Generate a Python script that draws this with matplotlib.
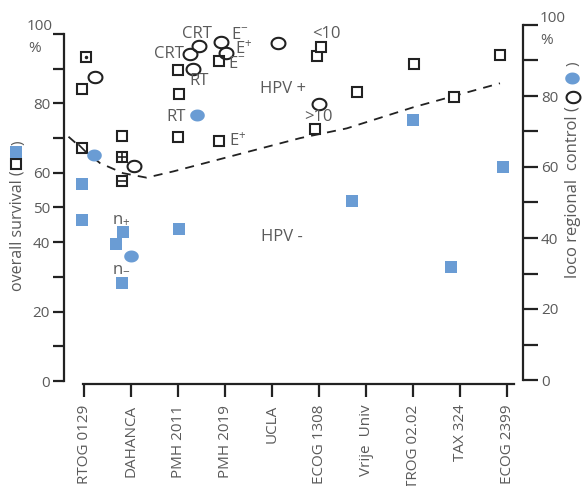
import numpy as np
import matplotlib.pyplot as plt
from matplotlib.path import Path
from matplotlib.lines import Line2D

plt.rcParams['font.family'] = ['Open Sans', 'DejaVu Sans']
plt.rcParams['mathtext.fontset'] = 'custom'
plt.rcParams['mathtext.rm'] = 'Open Sans'
plt.rcParams['mathtext.default'] = 'regular'

studies = ["RTOG 0129", "DAHANCA", "PMH 2011", "PMH 2019", "UCLA",
           "ECOG 1308", "Vrije  Univ", "TROG 02.02", "TAX 324", "ECOG 2399"]

# overall survival, HPV+ (open squares), x = study index (with small offsets)
os_pos_x = [0.04, -0.05, -0.05, 0.81, 0.80, 0.80, 2.01, 2.03, 2.01, 2.87, 2.87,
            4.96, 5.05, 4.91, 5.80, 7.03, 7.87, 8.86]
os_pos_y = [93.3, 84.1, 67.1, 70.5, 64.5, 57.6, 89.7, 82.6, 70.3, 92.3, 69.2,
            93.7, 96.2, 72.7, 83.3, 91.4, 81.9, 93.9]

# overall survival, HPV- (filled squares)
os_neg_x = [-0.04, -0.05, 0.83, 0.69, 0.80, 2.03, 5.70, 6.99, 7.81, 8.91]
os_neg_y = [56.8, 46.3, 42.9, 39.4, 28.3, 43.7, 51.8, 75.2, 32.9, 61.8]

# loco regional control, HPV+ (open circles, right axis)
lrc_pos_x = [0.23, 1.06, 2.26, 2.45, 2.31, 2.91, 3.02, 4.13, 5.01]
lrc_pos_y = [85.4, 60.4, 91.7, 94.0, 87.5, 95.1, 92.2, 95.0, 77.8]

# loco regional control, HPV- (filled circles, right axis)
lrc_neg_x = [0.21, 1.00, 2.40]
lrc_neg_y = [63.3, 35.0, 74.6]

# dashed trend
trend_x = [-0.33, -0.05, 0.34, 0.83, 1.33, 1.9, 4.60, 5.59, 7.01, 8.85]
trend_y = [70.4, 67.1, 62.8, 59.9, 58.6, 60.4, 70.0, 72.8, 78.9, 85.8]

blue = '#6a9cd4'
gray = '#5a5a5a'
dark = '#222222'

W, H = 582, 486
def fx(px):
    return px / W
def fy(py):
    return 1 - py / H

t = np.linspace(0, 2 * np.pi, 60)
ellipse = Path(np.column_stack([1.22 * np.cos(t), np.sin(t)]), closed=True)

fig = plt.figure(figsize=(W / 100, H / 100), dpi=100)
ax = fig.add_axes([fx(64), fy(381), fx(523) - fx(64), fy(34) - fy(381)])
ax2 = fig.add_axes([fx(64), fy(380), fx(523) - fx(64), fy(25) - fy(380)])
ax2.patch.set_visible(False)

xlim = ((64 - 84) / 47, (523 - 84) / 47)
for a in (ax, ax2):
    a.set_xlim(*xlim)
    a.set_ylim(0, 100)
    for s in a.spines.values():
        s.set_visible(False)
        s.set_color(dark)
        s.set_linewidth(1.6)
    a.tick_params(which='both', colors=dark, width=1.6, length=8, labelcolor=gray,
                  labelsize=11)

# left axis
ax.spines['left'].set_visible(True)
ax.spines['left'].set_bounds(0, 100)
ax.set_yticks([0, 20, 40, 50, 60, 80, 100])
ax.set_yticklabels(['0', '20', '40', '50', '60', '80', ''])
ax.set_yticks([10, 30, 70, 90], minor=True)
ax.tick_params(axis='y', which='both', pad=2)

# bottom axis
ax.spines['bottom'].set_visible(True)
ax.spines['bottom'].set_position(('outward', 2))
ax.spines['bottom'].set_bounds(-0.02, 9.15)
ax.set_xticks(range(len(studies)))
ax.set_xticklabels(studies, rotation=90, fontsize=11, color=gray)
ax.tick_params(axis='x', length=9, pad=6)

# right axis
ax2.spines['right'].set_visible(True)
ax2.spines['right'].set_bounds(0, 100)
ax2.yaxis.tick_right()
ax2.set_yticks([0, 20, 40, 60, 80, 100])
ax2.set_yticklabels(['0', '20', '40', '60', '80', ''])
ax2.set_yticks([10, 30, 50, 70, 90], minor=True)
ax2.tick_params(axis='y', which='both', length=11, pad=2)
ax2.set_xticks([])

# data
ax.plot(trend_x, trend_y, color=dark, lw=1.3, dashes=(5, 4), zorder=2)
ax.plot(os_pos_x, os_pos_y, 's', ms=7, mfc='white', mec=dark, mew=1.5, ls='none', zorder=3)
ax.plot(os_neg_x, os_neg_y, 's', ms=8.5, color=blue, mew=0, ls='none', zorder=3)
ax2.plot(lrc_pos_x, lrc_pos_y, marker=ellipse, ms=10, mfc='none', mec=dark, mew=1.5,
         ls='none', zorder=3)
ax2.plot(lrc_neg_x, lrc_neg_y, marker=ellipse, ms=10.5, color=blue, mew=0, ls='none',
         zorder=3)

# decorated squares
ax.plot(os_pos_x[0], os_pos_y[0], '.', ms=3, color=dark, zorder=4)
ax.plot(os_pos_x[2], os_pos_y[2], marker=[(-1, 1), (1, -1)], ms=6, mec=dark, mew=1.2, zorder=4)
ax.plot(os_pos_x[4], os_pos_y[4], '+', ms=7, mec=dark, mew=1.2, zorder=4)
ax.plot(os_pos_x[5], os_pos_y[5], '_', ms=7, mec=dark, mew=1.2, zorder=4)

# annotations (figure pixel positions)
notes = [("CRT", 197, 34), ("CRT", 169, 54), ("RT", 199, 81), ("RT", 176, 117),
         (r"E$^{-}$", 240, 35), (r"E$^{+}$", 244, 49), (r"E$^{-}$", 237, 64),
         (r"E$^{+}$", 238, 141), ("<10", 326, 34), (">10", 318, 117),
         ("HPV +", 283, 89), ("HPV -", 282, 237), (r"n$_{+}$", 121, 219),
         (r"n$_{-}$", 121, 268)]
for s, px, py in notes:
    fig.text(fx(px), fy(py), s, ha='center', va='center', fontsize=12, color=gray)

fig.text(fx(53), fy(26), "100", ha='right', va='center', fontsize=11, color=gray)
fig.text(fx(28), fy(48), "%", ha='left', va='center', fontsize=11, color=gray)
fig.text(fx(540), fy(19), "100", ha='left', va='center', fontsize=11, color=gray)
fig.text(fx(540), fy(40), "%", ha='left', va='center', fontsize=11, color=gray)

# axis titles with symbol keys
fig.text(fx(18), fy(170), "overall survival (", rotation=90, ha='center', va='top',
         fontsize=11.5, color=gray)
fig.text(fx(18), fy(143), ")", rotation=90, ha='center', va='center', fontsize=11, color=gray)
fig.add_artist(Line2D([fx(16)], [fy(164)], marker='s', ms=6.5, mfc='white', mec=dark, mew=1.5,
                      transform=fig.transFigure))
fig.add_artist(Line2D([fx(16)], [fy(152)], marker='s', ms=8, color=blue, mew=0,
                      transform=fig.transFigure))

fig.text(fx(573), fy(106), "loco regional  control (", rotation=90, ha='center', va='top',
         fontsize=12, color=gray)
fig.text(fx(573), fy(64), ")", rotation=90, ha='center', va='center', fontsize=11, color=gray)
fig.add_artist(Line2D([fx(573)], [fy(97)], marker=ellipse, ms=10, mfc='none', mec=dark, mew=1.5,
                      transform=fig.transFigure))
fig.add_artist(Line2D([fx(572)], [fy(78)], marker=ellipse, ms=10.5, color=blue, mew=0,
                      transform=fig.transFigure))

fig.savefig('out.png', dpi=100)
